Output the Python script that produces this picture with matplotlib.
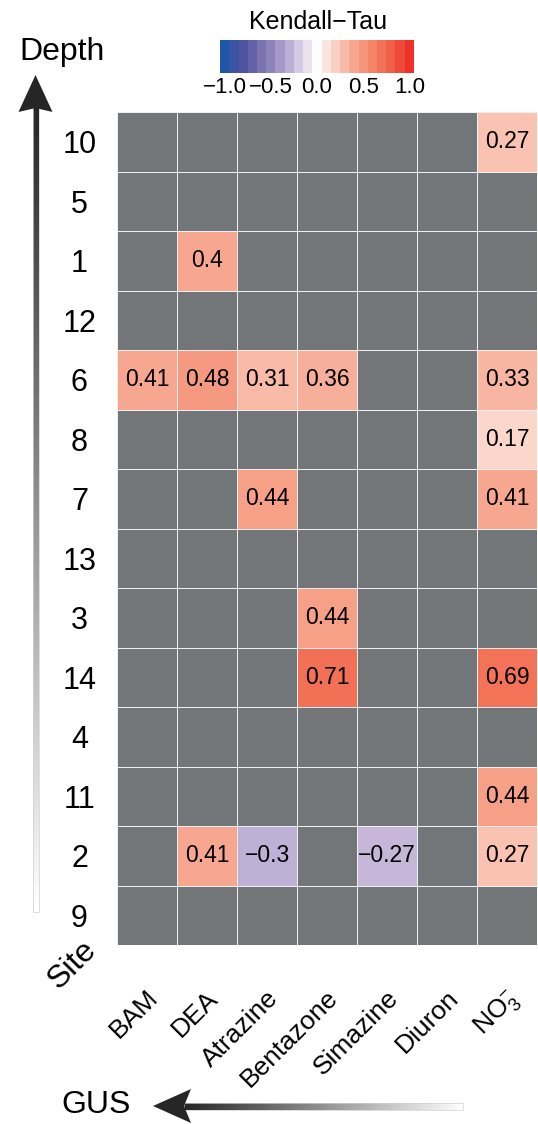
import numpy as np
import matplotlib
matplotlib.use("Agg")
import matplotlib.pyplot as plt
from matplotlib.colors import LinearSegmentedColormap, Normalize
from matplotlib.patches import Polygon, Rectangle
from matplotlib.transforms import ScaledTranslation

plt.rcParams['font.family'] = ['Liberation Sans', 'DejaVu Sans']
plt.rcParams['mathtext.fontset'] = 'custom'
plt.rcParams['mathtext.rm'] = 'Liberation Sans'
plt.rcParams['mathtext.it'] = 'Liberation Sans:italic'
plt.rcParams['mathtext.bf'] = 'Liberation Sans:bold'

# Sites, listed top to bottom
sites = ["10", "5", "1", "12", "6", "8", "7", "13", "3", "14", "4", "11", "2", "9"]
compounds = ["BAM", "DEA", "Atrazine", "Bentazone", "Simazine", "Diuron", r"NO$_3^{-}$"]

# Kendall tau per compound and site (None = not significant)
tau_bam       = [None, None, None, None, 0.41, None, None, None, None, None, None, None, None, None]
tau_dea       = [None, None, 0.4, None, 0.48, None, None, None, None, None, None, None, 0.41, None]
tau_atrazine  = [None, None, None, None, 0.31, None, 0.44, None, None, None, None, None, -0.3, None]
tau_bentazone = [None, None, None, None, 0.36, None, None, None, 0.44, 0.71, None, None, None, None]
tau_simazine  = [None, None, None, None, None, None, None, None, None, None, None, None, -0.27, None]
tau_diuron    = [None, None, None, None, None, None, None, None, None, None, None, None, None, None]
tau_no3       = [0.27, None, None, None, 0.33, 0.17, 0.41, None, None, 0.69, None, 0.44, 0.27, None]

columns = [tau_bam, tau_dea, tau_atrazine, tau_bentazone, tau_simazine, tau_diuron, tau_no3]
vals = np.array([[np.nan if c[i] is None else c[i] for c in columns] for i in range(len(sites))])
data = np.ma.masked_invalid(vals)

# Diverging blue-purple / white / red scale in 0.1 steps
scale_colors = ['#1f57a8', '#3c55a3', '#4e53a0', '#6461a8', '#7a73b0', '#8d84ba', '#a899c9',
                '#bfb0d5', '#d6c9e3', '#ebe1ef', '#ffffff',
                '#fce5df', '#fbd0c2', '#f9bcaa', '#f7a891', '#f5967c', '#f38468', '#f27257',
                '#f16048', '#ef4b3a', '#ee3229']
cmap = LinearSegmentedColormap.from_list("kendall", scale_colors)
cmap.set_bad('#737678')
norm = Normalize(vmin=-1, vmax=1)

W, H = 538, 1124
fig = plt.figure(figsize=(W / 100, H / 100), dpi=100)

def fig_rect(x0, y0, x1, y1):
    return [x0 / W, 1 - y1 / H, (x1 - x0) / W, (y1 - y0) / H]

# Heatmap
ax = fig.add_axes(fig_rect(117, 112, 537, 945))
nr, nc = data.shape
ax.pcolormesh(np.arange(nc + 1), np.arange(nr + 1), data, cmap=cmap, norm=norm,
              edgecolors='#f0f0f0', linewidth=0.7)
ax.set_xlim(0, nc)
ax.set_ylim(nr, 0)
for s in ax.spines.values():
    s.set_visible(False)
for i in range(nr):
    for j in range(nc):
        v = vals[i, j]
        if not np.isnan(v):
            ax.text(j + 0.5, i + 0.5, f"{v:g}".replace("-", "\u2212"),
                    ha='center', va='center', fontsize=16.5, color='black')
ax.set_yticks(np.arange(nr) + 0.5)
ax.set_yticklabels(sites, fontsize=22, ha='center')
ax.tick_params(axis='y', length=0, pad=27)
ax.set_xticks(np.arange(nc) + 0.5)
ax.set_xticklabels(compounds, fontsize=19, rotation=45, ha='right', va='baseline')
ax.tick_params(axis='x', length=0, pad=39)
shift = ScaledTranslation(12.5 / 100, 0, fig.dpi_scale_trans)
for lab in ax.get_xticklabels():
    lab.set_rotation_mode('anchor')
    lab.set_transform(lab.get_transform() + shift)

# Colour key
cax = fig.add_axes(fig_rect(220, 40, 414, 73))
bins = np.linspace(-1, 1, 21)
cax.imshow(bins[np.newaxis, :], cmap=cmap, norm=norm, aspect='auto',
           extent=(-1.05, 1.05, 0, 1), interpolation='nearest')
cax.set_xlim(-1.05, 1.05)
cax.set_yticks([])
cax.set_xticks([-1, -0.5, 0, 0.5, 1])
cax.set_xticklabels(["\u22121.0", "\u22120.5", "0.0", "0.5", "1.0"], fontsize=16)
cax.tick_params(axis='x', length=0, pad=3)
for s in cax.spines.values():
    s.set_visible(False)

# Overlay for arrows and axis captions
ov = fig.add_axes([0, 0, 1, 1], zorder=-1)
ov.set_xlim(0, W)
ov.set_ylim(H, 0)
ov.axis('off')

ov.text(318, 22, "Kendall\u2212Tau", ha='center', va='center', fontsize=18)

# Vertical "Depth" arrow with fading shaft
vgrad = np.linspace(0, 1, 256)[:, np.newaxis]
ov.imshow(vgrad, cmap=LinearSegmentedColormap.from_list("vg", ['#262626', '#ffffff']),
          extent=(32.5, 38.5, 912, 106), aspect='auto', interpolation='bilinear')
ov.add_patch(Rectangle((32.5, 106), 6, 806, fill=False, edgecolor='#d0d0d0', linewidth=0.5))
ov.add_patch(Polygon([(35.5, 75), (52.5, 112), (35.5, 108), (18.5, 112)], closed=True,
                     facecolor='#262626', edgecolor='none'))
ov.text(62, 52, "Depth", ha='center', va='center', fontsize=23)

# Horizontal "GUS" arrow
hgrad = np.linspace(0, 1, 256)[np.newaxis, :]
ov.imshow(hgrad, cmap=LinearSegmentedColormap.from_list("hg", ['#262626', '#ffffff']),
          extent=(184, 463, 1110, 1103), aspect='auto', interpolation='bilinear')
ov.add_patch(Rectangle((184, 1103), 279, 7, fill=False, edgecolor='#d0d0d0', linewidth=0.5))
ov.add_patch(Polygon([(153, 1106), (191, 1089), (184, 1106), (191, 1123)], closed=True,
                     facecolor='#262626', edgecolor='none'))
ov.text(96, 1105, "GUS", ha='center', va='center', fontsize=23)

ov.text(72, 965, "Site", ha='center', va='center', fontsize=23, rotation=45)

fig.savefig("out.png", dpi=100)
